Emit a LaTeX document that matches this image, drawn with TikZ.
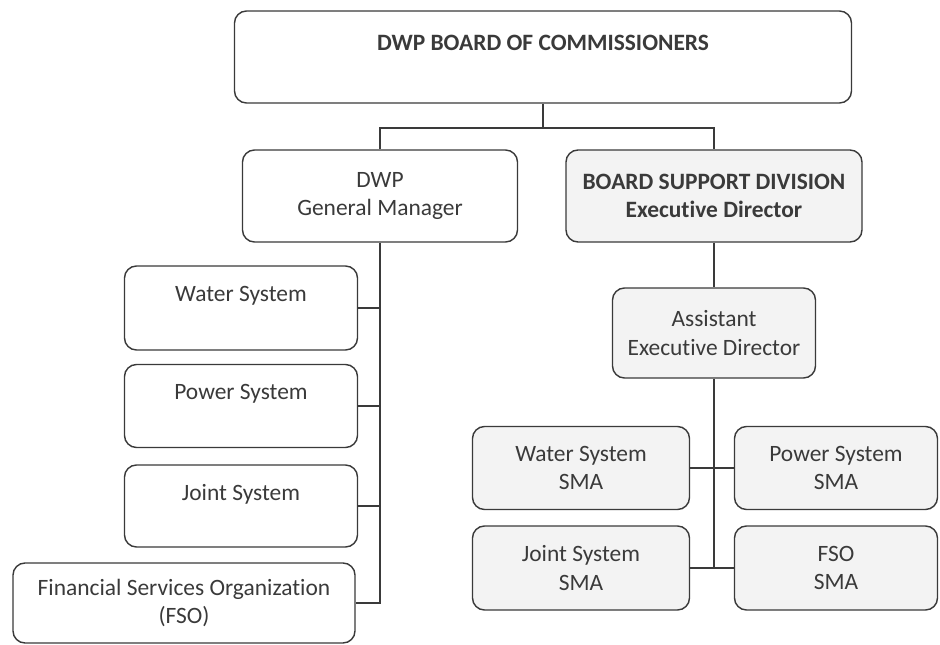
\documentclass[tikz,border=0pt]{standalone}
\usepackage{fontspec}
\setmainfont[Ligatures=NoCommon]{Carlito}
\usepackage{xcolor}
\definecolor{inkgray}{HTML}{3A3A3A}
\definecolor{boxfill}{HTML}{F3F3F3}
\tikzset{
  orgbox/.style 2 args={
    draw=inkgray,
    line width=1.2pt,
    rounded corners=0.36cm,
    fill=white,
    align=center,
    text=inkgray,
    inner sep=0pt,
    minimum width=#1*0.03cm,
    minimum height=#2*0.03cm,
    font=\fontsize{20}{24}\selectfont
  },
  support/.style={
    fill=boxfill
  },
  link/.style={
    draw=inkgray,
    line width=1.2pt
  }
}

\begin{document}
\begin{tikzpicture}[x=0.03cm, y=-0.03cm]
  \useasboundingbox (0,0) rectangle (940,645);

  % board and the two branches under it
  \node[orgbox={617}{92}] (board) at (543,57) {\textbf{DWP BOARD OF COMMISSIONERS}\\~};
  \node[orgbox={275}{92}] (gm) at (380,196) {DWP\\General Manager};
  \node[orgbox={296}{92}, support] (bsd) at (714,196) {\textbf{BOARD SUPPORT DIVISION}\\\textbf{Executive Director}};

  % systems under the general manager
  \node[orgbox={233}{84}] (ws) at (241,308) {Water System\\~};
  \node[orgbox={233}{83}] (ps) at (241,406) {Power System\\~};
  \node[orgbox={233}{82}] (js) at (241,506) {Joint System\\~};
  \node[orgbox={342}{80}] (fso) at (184,603) {Financial Services Organization\\(FSO)};

  % board support side
  \node[orgbox={203}{90}, support] (aed) at (714,333) {Assistant\\Executive Director};
  \node[orgbox={217}{83}, support] (wsma) at (581,468) {Water System\\SMA};
  \node[orgbox={203}{83}, support] (psma) at (836,468) {Power System\\SMA};
  \node[orgbox={217}{84}, support] (jsma) at (581,568) {Joint System\\SMA};
  \node[orgbox={203}{84}, support] (fsma) at (836,568) {FSO\\SMA};

  \coordinate (split) at (543,128);
  \coordinate (lbus) at (380,603);
  \coordinate (rbus) at (714,568);

  \draw[link] (board.south) -- (split);
  \draw[link] (gm.north) |- (split) -| (bsd.north);

  \draw[link] (gm.south) -- (lbus) -- (fso.east);
  \draw[link] (ws.east) -- (ws.east -| lbus);
  \draw[link] (ps.east) -- (ps.east -| lbus);
  \draw[link] (js.east) -- (js.east -| lbus);

  \draw[link] (bsd.south) -- (aed.north);
  \draw[link] (aed.south) -- (rbus);
  \draw[link] (wsma.east) -- (psma.west);
  \draw[link] (jsma.east) -- (fsma.west);
\end{tikzpicture}
\end{document}
